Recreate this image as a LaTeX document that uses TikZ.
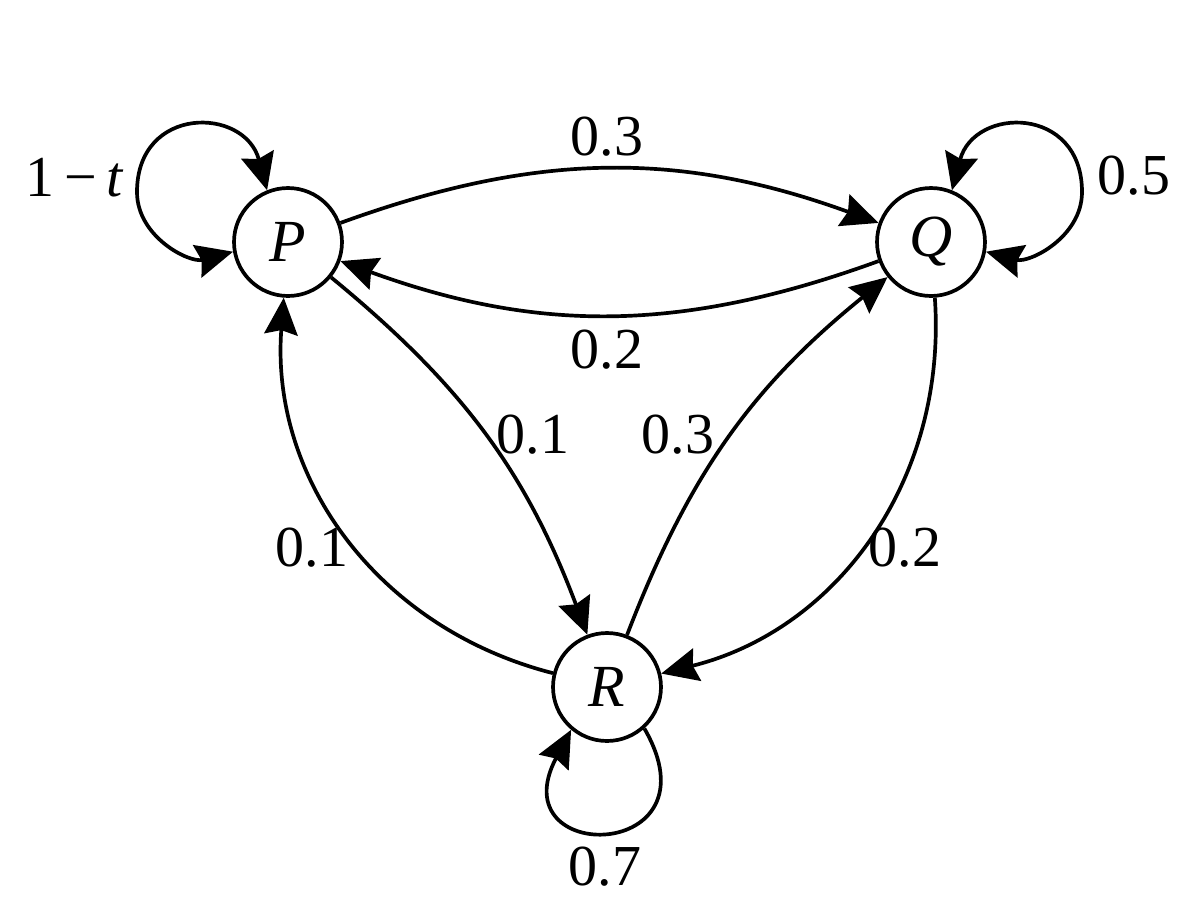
\documentclass[tikz,border=0pt]{standalone}
\usepackage{fontspec}
\setmainfont{Liberation Serif}
\usetikzlibrary{arrows.meta}
\begin{document}
\begin{tikzpicture}[x=0.02cm,y=-0.02cm,
  state/.style={circle,draw,line width=2.1pt,minimum size=2.16cm,inner sep=0pt,font=\fontsize{34}{40}\selectfont\itshape},
  tip/.tip={Stealth[length=21pt,width=19pt,inset=2.5pt]},
  edge/.style={line width=2.1pt,-tip},
  twoway/.style={line width=2.1pt,tip-tip},
  lbl/.style={inner sep=0pt,font=\fontsize{33}{40}\selectfont}]
\useasboundingbox (0,0) rectangle (1200,896);
\node[state] (P) at (288,242) {P};
\node[state] (Q) at (931,242) {Q};
\node[state] (R) at (607,687) {R};
\coordinate (PL) at (137,192);
\coordinate (QL) at (1082,192);
% edges between states
\draw[edge] (P) to[bend left=20] (Q);
\draw[edge] (Q) to[bend left=20] (P);
\draw[edge] (P) to[bend left=15] (R);
\draw[edge] (R) to[bend left=15] (Q);
\draw[edge] (Q) to[bend left=40] (R);
\draw[edge] (R) to[bend left=40] (P);
% loops
\draw[twoway] (P.112) .. controls +(105:1.74cm) and +(90:1.74cm) .. (PL)
  .. controls +(-90:0.9cm) and +(195:0.9cm) .. (P.190);
\draw[twoway] (Q.68) .. controls +(75:1.74cm) and +(90:1.74cm) .. (QL)
  .. controls +(-90:0.9cm) and +(-15:0.9cm) .. (Q.350);
\draw[edge] (R.-48) .. controls +(-60:3.1cm) and +(-118:3.1cm) .. (R.-130);
% labels
\node[lbl] (lPQ) at (607,137) {0.3};
\node[lbl] (lQP) at (607,350) {0.2};
\node[lbl] (lPR) at (533,435) {0.1};
\node[lbl] (lRQ) at (678,435) {0.3};
\node[lbl] (lRP) at (312,548) {0.1};
\node[lbl] (lQR) at (905,548) {0.2};
\node[lbl] (lPP) at (75,178) {1\,−\,\textit{t}};
\node[lbl] (lQQ) at (1134,176) {0.5};
\node[lbl] (lRR) at (605,867) {0.7};
\end{tikzpicture}
\end{document}
